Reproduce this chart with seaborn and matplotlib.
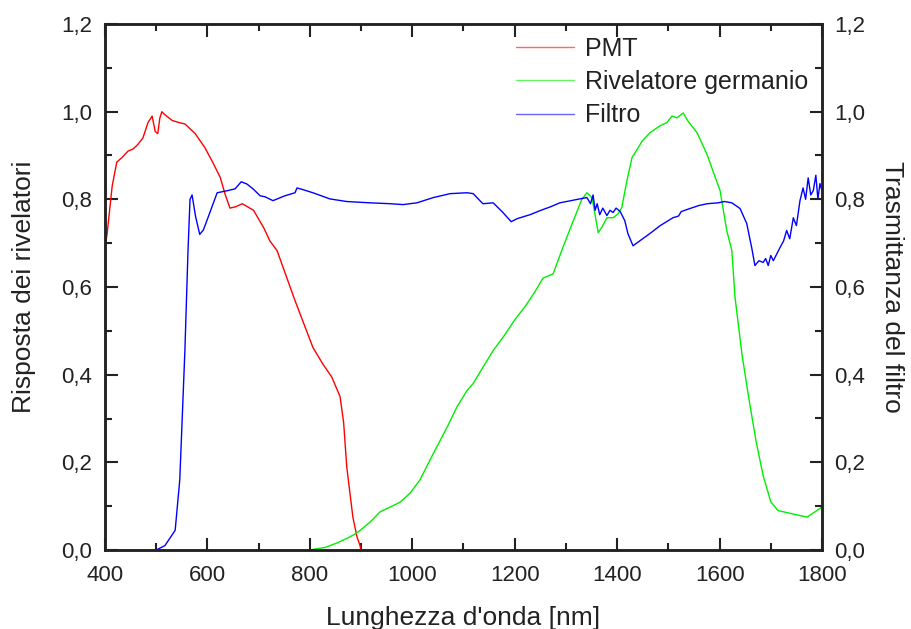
import numpy as np
import pandas as pd
import matplotlib
matplotlib.use("Agg")
import matplotlib.pyplot as plt
import seaborn as sns
from matplotlib.ticker import MultipleLocator, FuncFormatter

# ---- data ----
pmt_wl = [400, 404, 414, 423, 433, 445, 455, 464, 474, 484, 492, 498, 503, 507, 511, 515,
          531, 545, 556, 576, 595, 611, 625, 635, 644, 655, 668, 690, 710, 722, 736, 771,
          806, 825, 843, 859, 866, 872, 884, 892, 898, 900]
pmt_val = [0.69, 0.72, 0.83, 0.885, 0.895, 0.91, 0.915, 0.925, 0.94, 0.975, 0.99, 0.955, 0.95,
           0.985, 1.0, 0.995, 0.98, 0.975, 0.972, 0.95, 0.918, 0.883, 0.85, 0.81, 0.78, 0.783,
           0.79, 0.775, 0.735, 0.705, 0.683, 0.569, 0.462, 0.425, 0.394, 0.35, 0.29, 0.19,
           0.075, 0.03, 0.01, 0.0]

ge_wl = [800, 830, 853, 875, 892, 918, 937, 957, 976, 996, 1015, 1041, 1068, 1087, 1107,
         1119, 1138, 1158, 1180, 1200, 1220, 1240, 1255, 1275, 1294, 1314, 1331, 1341, 1351,
         1363, 1370, 1380, 1392, 1402, 1409, 1419, 1429, 1449, 1464, 1484, 1497, 1507, 1517,
         1529, 1538, 1556, 1575, 1587, 1601, 1614, 1624, 1630, 1644, 1658, 1671, 1685, 1700,
         1714, 1740, 1771, 1800]
ge_val = [0.0, 0.006, 0.016, 0.028, 0.039, 0.064, 0.087, 0.098, 0.109, 0.13, 0.16, 0.22,
          0.28, 0.326, 0.364, 0.38, 0.417, 0.455, 0.49, 0.525, 0.555, 0.59, 0.62, 0.63, 0.69,
          0.75, 0.80, 0.815, 0.804, 0.724, 0.736, 0.758, 0.758, 0.767, 0.781, 0.842, 0.895,
          0.933, 0.952, 0.968, 0.975, 0.99, 0.986, 0.997, 0.979, 0.952, 0.904, 0.865, 0.82,
          0.729, 0.683, 0.578, 0.444, 0.34, 0.25, 0.17, 0.11, 0.09, 0.083, 0.075, 0.098]

filt_wl = [500, 517, 537, 546, 556, 562, 566, 570, 577, 585, 592, 601, 619, 640, 654, 666,
           677, 689, 703, 712, 728, 751, 771, 775, 787, 806, 839, 872, 918, 957, 982, 1009,
           1041, 1074, 1107, 1119, 1132, 1138, 1158, 1177, 1193, 1205, 1230, 1249, 1270,
           1288, 1310, 1327, 1341, 1348, 1353, 1357, 1361, 1366, 1372, 1380, 1386, 1392,
           1398, 1406, 1415, 1421, 1431, 1445, 1464, 1484, 1509, 1520, 1525, 1542, 1560,
           1576, 1597, 1610, 1624, 1640, 1653, 1663, 1669, 1677, 1685, 1690, 1695, 1700,
           1705, 1718, 1725, 1731, 1737, 1744, 1750, 1757, 1763, 1768, 1773, 1778, 1783,
           1788, 1792, 1796, 1800]
filt_val = [0.0, 0.01, 0.045, 0.16, 0.455, 0.68, 0.80, 0.81, 0.76, 0.72, 0.73, 0.758, 0.815,
            0.82, 0.824, 0.84, 0.835, 0.824, 0.808, 0.806, 0.797, 0.808, 0.815, 0.826, 0.822,
            0.815, 0.801, 0.795, 0.792, 0.79, 0.788, 0.792, 0.804, 0.813, 0.815, 0.813, 0.797,
            0.79, 0.792, 0.77, 0.749, 0.756, 0.765, 0.774, 0.783, 0.792, 0.797, 0.801, 0.804,
            0.79, 0.81, 0.775, 0.79, 0.765, 0.78, 0.763, 0.775, 0.77, 0.78, 0.772, 0.751,
            0.722, 0.694, 0.706, 0.722, 0.74, 0.758, 0.762, 0.772, 0.779, 0.786, 0.79, 0.792,
            0.795, 0.792, 0.779, 0.745, 0.688, 0.649, 0.66, 0.656, 0.665, 0.649, 0.672, 0.66,
            0.69, 0.705, 0.729, 0.71, 0.758, 0.74, 0.797, 0.826, 0.80, 0.849, 0.81, 0.82,
            0.855, 0.80, 0.836, 0.82]

df = pd.concat([
    pd.DataFrame({"wl": pmt_wl, "val": pmt_val, "serie": "PMT"}),
    pd.DataFrame({"wl": ge_wl, "val": ge_val, "serie": "Rivelatore germanio"}),
    pd.DataFrame({"wl": filt_wl, "val": filt_val, "serie": "Filtro"}),
])

sns.set_theme(style="white")
plt.rcParams['font.family'] = ['Liberation Sans', 'DejaVu Sans']

fig = plt.figure(figsize=(9.11, 6.29), dpi=100)
ax = fig.add_axes([105/911, 1 - 550/629, (822-105)/911, (550-24)/629])

palette = {"PMT": "#ff0000", "Rivelatore germanio": "#00ee00", "Filtro": "#0000ff"}
sns.lineplot(data=df, x="wl", y="val", hue="serie", palette=palette, ax=ax,
             linewidth=1.0, sort=False, estimator=None)

ax.set_xlim(400, 1800)
ax.set_ylim(0, 1.2)
comma = FuncFormatter(lambda v, p: f"{v:.1f}".replace(".", ","))
ax.xaxis.set_major_locator(MultipleLocator(200))
ax.xaxis.set_minor_locator(MultipleLocator(100))
ax.yaxis.set_major_locator(MultipleLocator(0.2))
ax.yaxis.set_minor_locator(MultipleLocator(0.1))
ax.yaxis.set_major_formatter(comma)
ax.tick_params(which="both", direction="in", top=True, right=True, left=True, bottom=True,
               labelsize=16, colors="#222222", width=1.5)
ax.tick_params(axis="x", pad=11)
ax.tick_params(axis="y", pad=9)
ax.tick_params(which="major", length=9)
ax.tick_params(which="minor", length=5)
for s in ax.spines.values():
    s.set_linewidth(1.8)
    s.set_color("#222222")

ax2 = ax.twinx()
ax2.set_ylim(0, 1.2)
ax2.yaxis.set_major_locator(MultipleLocator(0.2))
ax2.yaxis.set_minor_locator(MultipleLocator(0.1))
ax2.yaxis.set_major_formatter(comma)
ax2.tick_params(which="both", direction="in", labelsize=16, colors="#222222", width=1.5, pad=9)
ax2.tick_params(which="major", length=9)
ax2.tick_params(which="minor", length=5)
for s in ax2.spines.values():
    s.set_linewidth(1.8)
    s.set_color("#222222")

ax.set_xlabel("Lunghezza d'onda [nm]", fontsize=19, color="#222222", labelpad=14)
ax.set_ylabel("Risposta dei rivelatori", fontsize=19, color="#222222", labelpad=18)
ax2.set_ylabel("Trasmittanza del filtro", fontsize=19, color="#222222", rotation=270,
               labelpad=28)

leg = ax.legend(loc="upper left", bbox_to_anchor=(0.556, 1.0), frameon=False, fontsize=18,
                handlelength=2.3, handletextpad=0.45, labelspacing=0.38, borderaxespad=0.1)
for line in leg.get_lines():
    line.set_linewidth(1.0)
    line.set_alpha(0.6)
for t in leg.get_texts():
    t.set_color("#222222")

fig.savefig("out.png", dpi=100)
